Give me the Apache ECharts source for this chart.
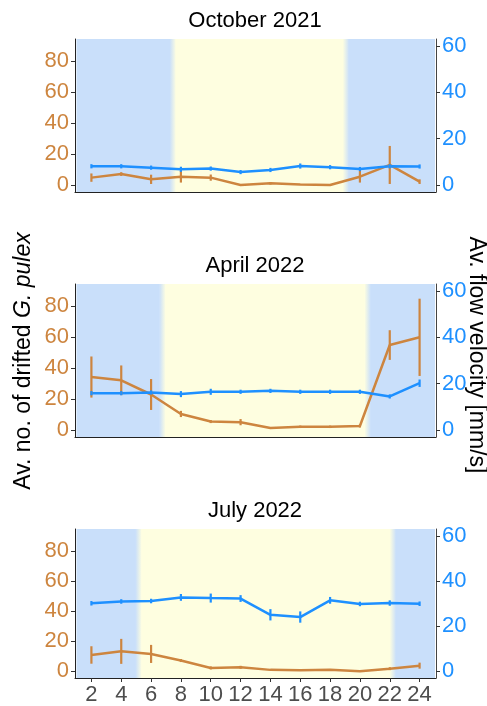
<!DOCTYPE html>
<html><head><meta charset="utf-8">
<script src="https://cdn.jsdelivr.net/npm/echarts@6/dist/echarts.min.js"></script>
<style>html,body{margin:0;padding:0;background:#fff}#c{width:487px;height:706px}</style>
</head><body><div id="c"></div>
<script>
var hours = [2,4,6,8,10,12,14,16,18,20,22,24];
var panelTitles = ['October 2021','April 2022','July 2022'];
var sunrise = [7.45, 6.75, 5.15];
var sunset = [19.05, 20.5, 22.2];

var octDrift    = [4.8, 7.1, 3.7, 5.4, 4.8, 0.0, 1.1, 0.4, 0.0, 5.4, 13.0, 2.2];
var octDriftErr = [2.7, 1.2, 3.0, 3.8, 2.0, 0.0, 0.8, 0.3, 0.0, 3.8, 12.3, 1.5];
var octFlow     = [8.1, 8.1, 7.5, 6.8, 7.1, 5.6, 6.5, 8.2, 7.7, 6.9, 8.1, 8.0];
var octFlowErr  = [0.9, 0.9, 0.9, 1.1, 0.9, 0.9, 0.9, 1.1, 0.9, 0.9, 0.9, 0.9];

var aprDrift    = [34.3, 32.2, 23.0, 10.4, 5.5, 5.1, 1.3, 2.1, 2.1, 2.6, 55.0, 60.0];
var aprDriftErr = [13.3, 9.6, 10.0, 2.0, 1.0, 2.0, 0.5, 0.8, 0.8, 1.0, 9.6, 25.0];
var aprFlow     = [15.9, 15.9, 16.2, 15.5, 16.5, 16.5, 16.9, 16.5, 16.5, 16.5, 14.5, 20.2];
var aprFlowErr  = [0.9, 0.9, 0.9, 1.3, 1.3, 0.9, 0.9, 0.9, 0.9, 0.9, 0.9, 1.6];

var julDrift    = [10.8, 13.2, 11.5, 7.1, 2.2, 2.6, 0.9, 0.6, 0.9, 0.0, 1.7, 3.7];
var julDriftErr = [5.8, 8.3, 6.0, 1.0, 1.0, 1.0, 0.0, 0.0, 0.0, 0.0, 1.0, 2.0];
var julFlow     = [30.1, 30.9, 31.1, 32.7, 32.4, 32.2, 25.0, 24.0, 31.4, 29.8, 30.2, 29.9];
var julFlowErr  = [1.0, 1.0, 1.0, 1.5, 2.0, 1.5, 2.5, 2.5, 1.5, 1.0, 1.2, 1.0];

var xTicks = [2,4,6,8,10,12,14,16,18,20,22,24];
var leftTicks = [0,20,40,60,80];
var rightTicks = [0,20,40,60];

var panels = [
  {drift: octDrift, driftErr: octDriftErr, flow: octFlow, flowErr: octFlowErr},
  {drift: aprDrift, driftErr: aprDriftErr, flow: aprFlow, flowErr: aprFlowErr},
  {drift: julDrift, driftErr: julDriftErr, flow: julFlow, flowErr: julFlowErr}
];

var ORANGE = '#cd853f', BLUE = '#1e90ff';
var NIGHT = '#c9dffa', DAY = '#fefee0';
var FONT = '"Liberation Sans", Arial, sans-serif';
var tops = [39, 284, 529];
var H = 153;

var chart = echarts.init(document.getElementById('c'), null, {renderer: 'canvas'});
var grids = [], xAxes = [], yAxes = [], series = [], graphics = [];

function grad(a, b) {
  return new echarts.graphic.LinearGradient(0, 0, 1, 0, [{offset: 0, color: a}, {offset: 1, color: b}]);
}
function errSeries(xi, yi, vals, errs, color) {
  var data = hours.map(function (h, k) { return [h, vals[k], errs[k]]; });
  return {
    type: 'custom', xAxisIndex: xi, yAxisIndex: yi, z: 3, silent: true,
    data: data,
    renderItem: function (params, api) {
      var x = api.value(0), y = api.value(1), e = api.value(2);
      var p1 = api.coord([x, y - e]), p2 = api.coord([x, y + e]);
      return {type: 'line', shape: {x1: p1[0], y1: p1[1], x2: p2[0], y2: p2[1]},
        style: {stroke: color, lineWidth: 2.2}};
    }
  };
}
function bgSeries(i) {
  var g = 0.2;
  var sr = sunrise[i], ss = sunset[i];
  // [from, to, kind] kind: 0 night, 1 day, 2 night->day, 3 day->night
  var bands = [[1, sr - g, 0], [sr - g, sr + g, 2], [sr + g, ss - g, 1], [ss - g, ss + g, 3], [ss + g, 25, 0]];
  return {
    type: 'custom', xAxisIndex: i, yAxisIndex: 2 * i, z: 0, silent: true,
    data: bands,
    renderItem: function (params, api) {
      var cs = params.coordSys;
      var a = api.coord([api.value(0), 0])[0], b = api.coord([api.value(1), 0])[0];
      var k = api.value(2);
      var fill = k === 0 ? NIGHT : k === 1 ? DAY : k === 2 ? grad(NIGHT, DAY) : grad(DAY, NIGHT);
      return {type: 'rect', shape: {x: a, y: cs.y, width: b - a + 0.5, height: cs.height}, style: {fill: fill}};
    }
  };
}

panels.forEach(function (p, i) {
  var last = i === 2;
  grids.push({left: 75, right: 51, top: tops[i], height: H});
  xAxes.push({
    type: 'value', gridIndex: i, min: 0.9, max: 25.1, position: 'bottom',
    axisLine: {show: true, onZero: false, lineStyle: {color: '#222', width: 1}},
    axisTick: {show: last, length: 4, lineStyle: {color: '#333'}, customValues: xTicks},
    axisLabel: {show: last, customValues: xTicks, color: '#4d4d4d', fontSize: 22, fontFamily: FONT, margin: 6},
    splitLine: {show: false}
  });
  yAxes.push({
    type: 'value', gridIndex: i, position: 'left', min: -4.5, max: 94.5,
    axisLine: {show: true, onZero: false, lineStyle: {color: '#222', width: 1}},
    axisTick: {show: true, length: 4, lineStyle: {color: '#333'}, customValues: leftTicks},
    axisLabel: {customValues: leftTicks, color: ORANGE, fontSize: 22, fontFamily: FONT, margin: 6},
    splitLine: {show: false}
  });
  yAxes.push({
    type: 'value', gridIndex: i, position: 'right', min: -3, max: 63,
    axisLine: {show: true, onZero: false, lineStyle: {color: '#444', width: 1}},
    axisTick: {show: true, length: 4, lineStyle: {color: '#333'}, customValues: rightTicks},
    axisLabel: {customValues: rightTicks, color: BLUE, fontSize: 22, fontFamily: FONT, margin: 6},
    splitLine: {show: false}
  });
  series.push(bgSeries(i));
  series.push({
    type: 'line', xAxisIndex: i, yAxisIndex: 2 * i, z: 2, symbol: 'none',
    data: hours.map(function (h, k) { return [h, p.drift[k]]; }),
    lineStyle: {color: ORANGE, width: 2.5}
  });
  series.push(errSeries(i, 2 * i, p.drift, p.driftErr, ORANGE));
  series.push({
    type: 'line', xAxisIndex: i, yAxisIndex: 2 * i + 1, z: 2, symbol: 'none',
    data: hours.map(function (h, k) { return [h, p.flow[k]]; }),
    lineStyle: {color: BLUE, width: 2.5}
  });
  series.push(errSeries(i, 2 * i + 1, p.flow, p.flowErr, BLUE));
  graphics.push({
    type: 'text', x: 255, y: tops[i] - 18,
    style: {text: panelTitles[i], fill: '#000', font: '22px ' + FONT, textAlign: 'center', textVerticalAlign: 'middle'}
  });
});

graphics.push({
  type: 'text', x: 24, y: 361, rotation: Math.PI / 2,
  style: {
    text: 'Av. no. of drifted {i|G. pulex}', fill: '#000', font: '23px ' + FONT,
    textAlign: 'center', textVerticalAlign: 'middle',
    rich: {i: {fontStyle: 'italic', fontSize: 23, fontFamily: FONT, fill: '#000'}}
  }
});
graphics.push({
  type: 'text', x: 476, y: 355, rotation: -Math.PI / 2,
  style: {text: 'Av. flow velocity [mm/s]', fill: '#000', font: '23px ' + FONT, textAlign: 'center', textVerticalAlign: 'middle'}
});

chart.setOption({
  animation: false,
  grid: grids, xAxis: xAxes, yAxis: yAxes, series: series, graphic: graphics
});
</script></body></html>
